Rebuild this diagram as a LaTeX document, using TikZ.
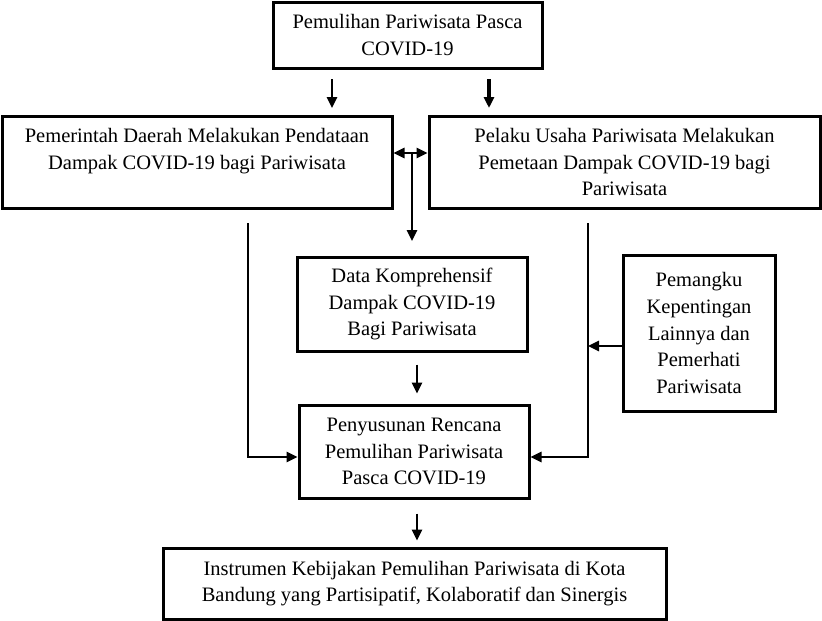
\documentclass[tikz,border=0pt]{standalone}
\usepackage{fontspec}
\setmainfont{Liberation Serif}
\usetikzlibrary{arrows.meta,calc}

\tikzset{
  BoxStl/.style={draw=black,line width=3pt,align=center,inner sep=0pt,
    font=\fontsize{20.5}{26.8}\selectfont},
  LinkStl/.style={line width=2.5pt,-{Triangle[length=11pt,width=10pt]}},
}

\begin{document}
\begin{tikzpicture}[x=1pt,y=-1pt]
\useasboundingbox (0,0) rectangle (822,621);

% Boxes.
\node[BoxStl,minimum width=269,minimum height=66] (Top) at (407.5,35)
  {Pemulihan Pariwisata Pasca\\COVID-19};
\node[BoxStl,minimum width=390,minimum height=92] (Gov) at (197,162)
  {Pemerintah Daerah Melakukan Pendataan\\Dampak COVID-19 bagi Pariwisata\\\mbox{}};
\node[BoxStl,minimum width=391,minimum height=92] (Biz) at (624.5,162)
  {Pelaku Usaha Pariwisata Melakukan\\Pemetaan Dampak COVID-19 bagi\\Pariwisata};
\node[BoxStl,minimum width=230,minimum height=94] (Data) at (412,304)
  {Data Komprehensif\\Dampak COVID-19\\Bagi Pariwisata};
\node[BoxStl,minimum width=152,minimum height=156] (Stake) at (699,333)
  {Pemangku\\Kepentingan\\Lainnya dan\\Pemerhati\\Pariwisata};
\node[BoxStl,minimum width=230,minimum height=93] (Plan) at (414,451.5)
  {Penyusunan Rencana\\Pemulihan Pariwisata\\Pasca COVID-19};
\node[BoxStl,minimum width=503,minimum height=71] (Tool) at (414.5,583.5)
  {Instrumen Kebijakan Pemulihan Pariwisata di Kota\\Bandung yang Partisipatif, Kolaboratif dan Sinergis};

% Free ends of the connectors.
\coordinate (TopL) at (332,79);
\coordinate (TopR) at (489,79);
\coordinate (Mid) at (412,153);
\coordinate (GovDown) at (248,223);
\coordinate (BizDown) at (588,223);

% Connectors.
\draw[LinkStl] (TopL) -- (TopL |- 0,108);
\draw[LinkStl,line width=3.2pt] (TopR) -- (TopR |- 0,108);
\draw[LinkStl,{Triangle[length=11pt,width=10pt]}-{Triangle[length=11pt,width=10pt]}]
  (Gov.east |- Mid) -- (Biz.west |- Mid);
\draw[LinkStl] (Mid) -- (Mid |- 0,241);
\draw[LinkStl] ([xshift=5pt,yshift=-12pt]Data.south) -- ([xshift=3pt,yshift=10pt]Plan.north);
\draw[LinkStl] (GovDown) |- ([yshift=-5.5pt]Plan.west);
\draw[LinkStl] (BizDown) |- ([yshift=-5.5pt]Plan.east);
\draw[LinkStl] ([yshift=-13pt]Stake.west) -- (BizDown |- 0,346);
\draw[LinkStl] ([xshift=3pt,yshift=-14pt]Plan.south) -- ([xshift=2.5pt,yshift=6pt]Tool.north);

\end{tikzpicture}
\end{document}
